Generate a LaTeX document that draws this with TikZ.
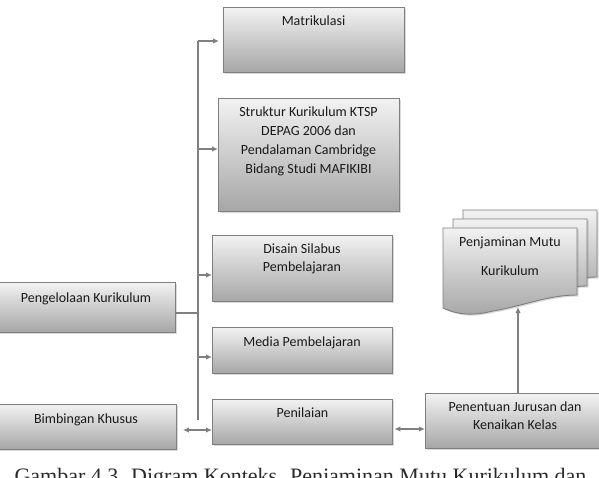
\documentclass[tikz,border=0pt]{standalone}
\usepackage{fontspec}
\newfontfamily\boxfont{Carlito}
\newfontfamily\capfont{Liberation Serif}
\usetikzlibrary{arrows.meta,shadows}

\definecolor{shadetop}{HTML}{F2F2F2}
\definecolor{shadebot}{HTML}{A6A6A6}
\definecolor{edgegray}{HTML}{7F7F7F}
\definecolor{wiregray}{HTML}{808080}
\definecolor{ink}{HTML}{1A1A1A}
\definecolor{capink}{HTML}{2A2A2A}

% centred lines whose base anchor is the first baseline
\newcommand\boxlines[1]{\begin{tabular}[t]{@{}c@{}}#1\end{tabular}}

\tikzset{
  panel/.style={draw=edgegray, line width=0.9pt, top color=shadetop, bottom color=shadebot,
    drop shadow={opacity=0.3, shadow xshift=1.5pt, shadow yshift=-1.5pt},
    anchor=north west, inner sep=0pt},
  sheet/.style={draw=edgegray, line width=0.9pt, top color=shadetop, bottom color=shadebot,
    drop shadow={opacity=0.3, shadow xshift=1.5pt, shadow yshift=-1.5pt}},
  boxtext/.style={font=\boxfont\fontsize{14}{18.8}\selectfont, text=ink, anchor=base, inner sep=0pt},
  wire/.style={draw=wiregray, line width=1.3pt},
  arr/.style={wire, -{Latex[length=6pt,width=5.5pt]}},
  biarr/.style={wire, {Latex[length=6pt,width=5.5pt]}-{Latex[length=6pt,width=5.5pt]}},
  docsheet/.pic={
    \path[sheet] (0,0) -- (134,0) -- (134,67)
      .. controls (105,67) and (80,78) .. (50,83)
      .. controls (30,88) and (15,87) .. (0,80) -- cycle;
  }
}

\begin{document}
\begin{tikzpicture}[x=1pt,y=-1pt]
\useasboundingbox (0,0) rectangle (599,478);

% boxes on the right of the trunk
\node[panel, minimum width=181pt, minimum height=65pt] (mat) at (223,7) {};
\node[boxtext] (matT) at (313.5,26) {Matrikulasi};

\node[panel, minimum width=181pt, minimum height=113pt] (str) at (218,98) {};
\node[boxtext] (strT) at (308.5,117) {\boxlines{Struktur Kurikulum KTSP\\DEPAG 2006 dan\\Pendalaman Cambridge\\Bidang Studi MAFIKIBI}};

\node[panel, minimum width=180pt, minimum height=66pt] (dsn) at (212,235) {};
\node[boxtext] (dsnT) at (302,253) {\boxlines{Disain Silabus\\Pembelajaran}};

\node[panel, minimum width=180pt, minimum height=46pt] (med) at (212,327) {};
\node[boxtext] (medT) at (302,346) {Media Pembelajaran};

\node[panel, minimum width=180pt, minimum height=45pt] (pen) at (212,399) {};
\node[boxtext] (penT) at (302.5,417) {Penilaian};

% boxes on the left
\node[panel, minimum width=177pt, minimum height=50pt] (pk) at (-2,282) {};
\node[boxtext] (pkT) at (86,302) {Pengelolaan Kurikulum};

\node[panel, minimum width=178pt, minimum height=45pt] (bk) at (-2,404) {};
\node[boxtext] (bkT) at (86,423) {Bimbingan Khusus};

% box at the bottom right
\node[panel, minimum width=180pt, minimum height=55pt] (pj) at (425,393) {};
\node[boxtext] (pjT) at (515,411) {\boxlines{Penentuan Jurusan dan\\Kenaikan Kelas}};

% stacked documents
\pic at (463,210) {docsheet};
\pic at (453,219) {docsheet};
\pic at (443,228) {docsheet};
\node[boxtext] (pmA) at (510,247) {Penjaminan Mutu};
\node[boxtext] (pmB) at (510,275) {Kurikulum};

% trunk and branches
\coordinate (tTop) at (198,41);
\coordinate (tBot) at (198,420);
\coordinate (tJoin) at (198,313);
\coordinate (b2) at (198,149);
\coordinate (b3) at (198,275);
\coordinate (b4) at (198,357);
\draw[wire] (tTop) -- (tBot);
\draw[wire] (pk.east |- tJoin) -- (tJoin);
\draw[arr, shorten >=4pt] (tTop) -- (tTop -| mat.west);
\draw[arr] (b2) -- (b2 -| str.west);
\draw[arr] (b3) -- (b3 -| dsn.west);
\draw[arr] (b4) -- (b4 -| med.west);

% two-way links
\coordinate (l1) at (198,430);
\coordinate (l2) at (400,429);
\draw[biarr, shorten <=6pt] (l1 -| bk.east) -- (l1 -| pen.west);
\draw[biarr, shorten <=1.5pt] (l2 -| pen.east) -- (l2 -| pj.west);

% up to the documents
\coordinate (upBase) at (518,393);
\coordinate (docBot) at (518,307);
\draw[arr] (upBase) -- (docBot);

% caption
\node[font=\capfont\fontsize{22}{26}\selectfont, text=capink, anchor=base, inner sep=0pt] (cap)
  at (300.5,483) {Gambar 4.3. Digram Konteks. Penjaminan Mutu Kurikulum dan};
\end{tikzpicture}
\end{document}
